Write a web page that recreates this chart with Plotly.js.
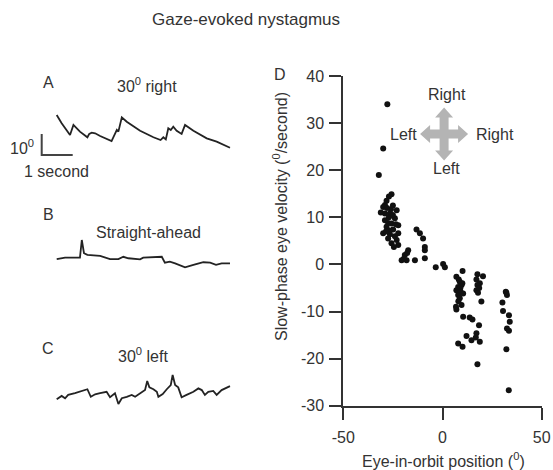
<!DOCTYPE html>
<html><head><meta charset="utf-8">
<script src="https://cdn.plot.ly/plotly-3.0.1.min.js"></script>
<style>html,body{margin:0;padding:0;background:#fff}#chart{width:553px;height:470px}</style>
</head><body><div id="chart"></div>
<script>
// ---------- Panel D: slow-phase velocity vs eye position ----------
const eyePosition = [
  -27.8,-29.9,-32.1,
  -25.7,-27.0,-28.2,-29.0,-29.9,-26.0,-23.1,-31.1,-29.0,-26.5,-24.0,-29.0,-27.4,-25.7,-22.3,-28.2,
  -24.9,-29.9,-26.5,-22.3,-27.4,-23.1,-25.7,-22.3,-24.5,-17.3,-19.0,-20.6,-18.1,-13.9,
  -28.0,-27.0,-25.0,-26.8,-24.0,-28.5,-25.0,-23.5,-19.5,-17.8,
  -13.1,-11.4,-9.8,-8.9,-8.9,-8.9,
  -3.4,0.3,1.2,
  10.1,7.0,8.7,7.9,9.6,7.0,9.1,7.9,10.4,8.7,9.6,7.0,8.2,9.0,8.0,10.0,6.8,
  10.4,13.7,15.1,18.4,12.1,14.6,16.8,17.1,18.8,7.9,10.1,17.6,
  17.6,20.4,17.1,18.8,17.6,17.1,17.9,19.6,18.5,
  31.9,32.5,32.2,30.2,30.5,33.5,33.9,32.5,33.5,32.2,33.4
];
const slowPhaseVelocity = [
  34.0,24.6,19.0,
  14.9,14.4,13.5,12.6,12.2,11.7,11.5,11.0,10.8,10.8,9.8,9.4,8.8,8.7,8.3,8.0,
  7.4,6.6,6.4,6.6,5.5,5.2,4.5,4.1,3.7,3.0,2.0,0.9,0.9,0.9,
  12.0,10.0,10.5,7.2,6.0,7.0,12.5,8.5,1.2,2.4,
  7.4,6.6,5.5,3.7,3.0,1.3,
  -0.6,0.1,-0.6,
  -1.4,-2.6,-3.7,-4.8,-4.4,-5.5,-5.8,-6.5,-6.2,-7.2,-8.6,-9.6,-3.2,-5.0,-7.8,-4.0,-9.0,
  -11.1,-11.3,-11.7,-12.9,-15.2,-16.1,-15.5,-14.6,-16.4,-16.8,-17.5,-21.2,
  -2.1,-2.5,-3.2,-4.0,-4.4,-5.5,-6.0,-7.9,-5.0,
  -5.8,-6.5,-6.0,-8.1,-9.9,-10.8,-12.2,-13.6,-14.1,-18.0,-26.7
];
const xTickVals = [-50, 0, 50];
const xTickText = ['-50', '0', '50'];
const yTickVals = [-30, -20, -10, 0, 10, 20, 30, 40];
const yTickText = ['-30', '-20', '-10', '0', '10', '20', '30', '40'];

// ---------- Panels A-C: eye position traces (time in s, position in deg) ----------
const timeA = [0,0.16,0.43,0.54,0.75,0.99,1.05,1.13,1.24,1.40,1.77,1.86,1.94,1.99,2.10,2.26,2.69,3.12,3.35,3.44,3.52,3.60,3.68,3.76,3.87,4.03,4.14,4.41,4.84,5.16,5.59];
const posA  = [15.7,11.8,6.2,11.0,7.8,5.1,6.7,7.3,7.0,5.7,3.3,6.2,8.6,7.8,14.6,12.5,8.2,5.1,3.8,5.1,4.1,9.4,8.6,10.1,8.2,6.7,11.0,8.2,4.6,3.0,0.1];
const timeB = [0,0.27,0.75,0.81,0.88,0.99,1.40,1.72,1.99,2.15,2.31,2.69,2.79,3.12,3.39,3.49,3.65,3.82,4.14,4.41,4.73,4.95,5.14,5.32,5.59];
const posB  = [2.0,2.7,2.7,11.1,4.8,4.0,3.5,2.0,2.0,3.1,2.4,1.9,2.7,3.1,3.1,0.3,0.8,0.0,-1.9,-0.8,0.5,0.3,-0.7,0.0,0.0];
const timeC = [0,0.16,0.27,0.37,0.59,0.81,0.99,1.10,1.24,1.40,1.61,1.72,1.88,1.99,2.10,2.26,2.42,2.53,2.69,2.85,2.92,2.99,3.12,3.23,3.28,3.42,3.55,3.68,3.74,3.82,3.92,4.03,4.19,4.41,4.57,4.68,4.78,4.89,5.05,5.16,5.32,5.59];
const posC  = [-1.1,0.5,-0.6,1.0,1.8,3.0,3.7,0.1,1.3,1.8,2.5,-0.1,1.8,-3.3,-0.6,0.1,1.0,0.1,1.8,3.3,7.6,4.6,3.7,2.5,0.1,1.4,3.7,5.7,10.5,5.7,4.6,-0.1,1.0,2.5,4.1,3.3,1.0,2.5,2.9,1.0,3.3,5.2];
const scaleBarSeconds = 1;
const scaleBarDegrees = 10;

const panelLabels = ['A', 'B', 'C', 'D'];
const conditionLabels = ['30<sup>0</sup> right', 'Straight-ahead', '30<sup>0</sup> left'];
const crossLabels = ['Right', 'Left', 'Right', 'Left'];
const chartTitle = 'Gaze-evoked nystagmus';
const xTitle = 'Eye-in-orbit position (<sup>0</sup>)';
const yTitle = 'Slow-phase eye velocity (<sup>0</sup>/second)';
const scaleLabels = ['10<sup>0</sup>', '1 second'];

// ---------- layout helpers ----------
const W = 553, H = 470;
const FONT = 'Liberation Sans, Arial, Helvetica, sans-serif';
const TXT = '#333333';
const px = p => p / W;
const py = p => 1 - p / H;
const pxPerSec = 31, pxPerDeg = 2.1, traceStartPx = 56.7;
const leftX0 = 30, leftX1 = 250;

function leftY(basePx, topPx, botPx) {
  return {domain: [py(botPx), py(topPx)],
          range: [(basePx - botPx) / pxPerDeg, (basePx - topPx) / pxPerDeg],
          visible: false, anchor: 'x2', fixedrange: true};
}
const baseA = 148, baseB = 263.3, baseC = 397;

const lineStyle = {color: '#232323', width: 1.8};
const data = [
  {x: eyePosition, y: slowPhaseVelocity, type: 'scatter', mode: 'markers',
   marker: {size: 6, color: '#111111'}, xaxis: 'x', yaxis: 'y', hoverinfo: 'skip'},
  {x: timeA, y: posA, type: 'scatter', mode: 'lines', line: lineStyle, xaxis: 'x2', yaxis: 'y2'},
  {x: timeB, y: posB, type: 'scatter', mode: 'lines', line: lineStyle, xaxis: 'x2', yaxis: 'y3'},
  {x: timeC, y: posC, type: 'scatter', mode: 'lines', line: lineStyle, xaxis: 'x2', yaxis: 'y4'}
];

const axisCommon = {
  showline: true, linecolor: '#333', linewidth: 2, ticks: 'outside', ticklen: 12,
  tickwidth: 2, tickcolor: '#333', showgrid: false, zeroline: false,
  tickfont: {family: FONT, size: 16, color: TXT}, automargin: false, fixedrange: true
};

function ann(text, xp, yp, opts) {
  return Object.assign({text: text, x: px(xp), y: py(yp), xref: 'paper', yref: 'paper',
    showarrow: false, xanchor: 'center', yanchor: 'middle',
    font: {family: FONT, size: 16, color: TXT}}, opts || {});
}

// scale bar in panel A units
const sbX0 = (41.7 - traceStartPx) / pxPerSec;
const sbY0 = (baseA - 155) / pxPerDeg;

const crossPath = 'M24,0 L14,9 L14,4.5 L4.5,4.5 L4.5,16.5 L9,16.5 L0,26.5 L-9,16.5 L-4.5,16.5 L-4.5,4.5 ' +
  'L-14,4.5 L-14,9 L-24,0 L-14,-9 L-14,-4.5 L-4.5,-4.5 L-4.5,-16.5 L-9,-16.5 L0,-26.5 L9,-16.5 ' +
  'L4.5,-16.5 L4.5,-4.5 L14,-4.5 L14,-9 Z';

const layout = {
  width: W, height: H, margin: {l: 0, r: 0, t: 0, b: 0},
  paper_bgcolor: '#fff', plot_bgcolor: 'rgba(0,0,0,0)', showlegend: false,
  font: {family: FONT, color: TXT},
  xaxis: Object.assign({}, axisCommon, {domain: [px(343.3), px(541.7)], range: [-50, 50],
    tickvals: xTickVals, ticktext: xTickText, anchor: 'y', ticklabelstandoff: 4}),
  yaxis: Object.assign({}, axisCommon, {domain: [py(405.7), py(76)], range: [-30, 40],
    tickvals: yTickVals, ticktext: yTickText, anchor: 'x', ticklabelstandoff: 2}),
  xaxis2: {domain: [px(leftX0), px(leftX1)],
    range: [(leftX0 - traceStartPx) / pxPerSec, (leftX1 - traceStartPx) / pxPerSec],
    visible: false, anchor: 'y2', fixedrange: true},
  yaxis2: leftY(baseA, 100, 165),
  yaxis3: leftY(baseB, 230, 280),
  yaxis4: leftY(baseC, 365, 415),
  shapes: [
    {type: 'path', xref: 'x2', yref: 'y2',
     path: `M${sbX0},${sbY0 + scaleBarDegrees} L${sbX0},${sbY0} L${sbX0 + scaleBarSeconds},${sbY0}`,
     line: {color: '#444', width: 2}},
    {type: 'path', xref: 'x', yref: 'y', xsizemode: 'pixel', ysizemode: 'pixel',
     xanchor: 0.8, yanchor: 27.7, path: crossPath, fillcolor: '#b4b4b4', line: {width: 0}}
  ],
  annotations: [
    ann(chartTitle, 246, 20, {font: {family: FONT, size: 17, color: TXT}}),
    ann(panelLabels[0], 48.3, 82.7),
    ann(panelLabels[1], 48.3, 215),
    ann(panelLabels[2], 48.3, 348.3),
    ann(panelLabels[3], 280, 75),
    ann(conditionLabels[0], 146.7, 85),
    ann(conditionLabels[1], 148, 232.7),
    ann(conditionLabels[2], 143.3, 355),
    ann(scaleLabels[0], 36, 147.3, {xanchor: 'right'}),
    ann(scaleLabels[1], 56.3, 171),
    ann(crossLabels[0], 446.7, 94.3),
    ann(crossLabels[1], 419, 134, {xanchor: 'right'}),
    ann(crossLabels[2], 473.5, 134, {xanchor: 'left'}),
    ann(crossLabels[3], 446.7, 168.3),
    ann(xTitle, 443.3, 460),
    ann(yTitle, 280, 217, {textangle: -90})
  ]
};

Plotly.newPlot('chart', data, layout, {displayModeBar: false, staticPlot: true});
</script></body></html>
